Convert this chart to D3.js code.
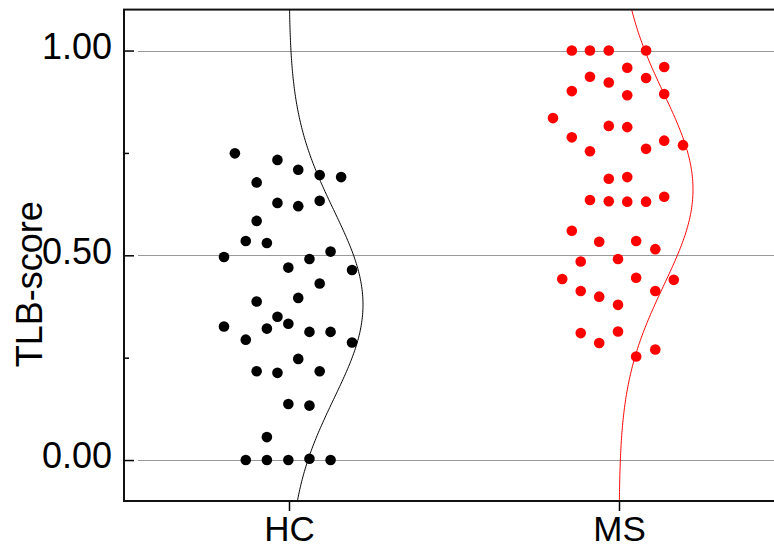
<!DOCTYPE html>
<html>
<head>
<meta charset="utf-8">
<script src="https://cdn.jsdelivr.net/npm/d3@7"></script>
<style>
    body { margin: 0; background: #fff; }
    svg { display: block; font-family: "Liberation Sans", Arial, sans-serif; }
</style>
</head>
<body>
<svg id="chart" width="774" height="549"></svg>
<script>
var categories = ['HC', 'MS'];
var colors = ['#000000', '#ff0000'];

// TLB-score per subject, with the horizontal jitter (in category units) used to spread the dots
var hcScore = [0.749, 0.733, 0.709, 0.696, 0.691, 0.678, 0.628, 0.620, 0.633, 0.584,
    0.535, 0.530, 0.496, 0.509, 0.491, 0.470, 0.464, 0.431, 0.387, 0.396,
    0.350, 0.326, 0.321, 0.333, 0.313, 0.313, 0.294, 0.287, 0.247, 0.217,
    0.213, 0.217, 0.137, 0.133, 0.056, 0, 0, 0, 0.003, 0];
var hcJitter = [-0.164, -0.035, 0.028, 0.093, 0.158, -0.098, -0.035, 0.028, 0.093, -0.098,
    -0.131, -0.067, -0.197, 0.126, 0.062, -0.002, 0.191, 0.093, -0.098, 0.028,
    -0.035, -0.197, -0.067, -0.002, 0.062, 0.126, -0.131, 0.191, 0.028, -0.098,
    -0.035, 0.093, -0.002, 0.062, -0.067, -0.131, -0.067, -0.002, 0.062, 0.126];

var msScore = [1, 1, 1, 1, 0.958, 0.960, 0.936, 0.922, 0.933, 0.901,
    0.891, 0.894, 0.835, 0.816, 0.813, 0.788, 0.780, 0.769, 0.754, 0.760,
    0.687, 0.691, 0.635, 0.632, 0.631, 0.631, 0.643, 0.560, 0.533, 0.535,
    0.515, 0.485, 0.491, 0.442, 0.445, 0.440, 0.413, 0.399, 0.413, 0.379,
    0.310, 0.286, 0.314, 0.253, 0.270];
var msJitter = [-0.143, -0.088, -0.031, 0.082, 0.025, 0.137, -0.088, -0.031, 0.082, -0.143,
    0.025, 0.137, -0.200, -0.031, 0.025, -0.143, 0.137, 0.194, -0.088, 0.082,
    -0.031, 0.025, -0.088, -0.031, 0.025, 0.082, 0.137, -0.143, -0.060, 0.052,
    0.110, -0.116, -0.003, -0.172, 0.052, 0.166, -0.116, -0.060, 0.110, -0.003,
    -0.116, -0.060, -0.003, 0.052, 0.110];

var majorTicks = [0, 0.5, 1];
var minorTicks = [0.25, 0.75];
var yTitle = 'TLB-score';

var groups = [
    { name: categories[0], pos: 1, color: colors[0], scores: hcScore, jitter: hcJitter },
    { name: categories[1], pos: 2, color: colors[1], scores: msScore, jitter: msJitter }
];

var plotLeft = 124, plotRight = 784, plotTop = 9.6, plotBottom = 501;
var curveWidth = 74; // px reached by each fitted curve at its peak

var x = d3.scaleLinear().domain([0.5, 2.5]).range([plotLeft, plotRight]);
var y = d3.scaleLinear().domain([-0.1, 1.1]).range([plotBottom, plotTop]);

var svg = d3.select('#chart');

svg.append('defs').append('clipPath').attr('id', 'plotClip')
    .append('rect')
    .attr('x', plotLeft).attr('y', plotTop)
    .attr('width', plotRight - plotLeft).attr('height', plotBottom - plotTop);

/* Grid lines */
svg.append('g').attr('class', 'grid')
    .selectAll('line')
    .data(majorTicks)
    .join('line')
    .attr('x1', plotLeft + 14).attr('x2', plotRight)
    .attr('y1', function(d) { return Math.round(y(d)) + 0.5; })
    .attr('y2', function(d) { return Math.round(y(d)) + 0.5; })
    .style('stroke', '#999')
    .style('stroke-width', 1);

/* Normal curves fitted to each group */
var plot = svg.append('g').attr('clip-path', 'url(#plotClip)');
var samples = d3.range(-0.1, 1.1001, 0.004);

groups.forEach(function(g) {
    var mu = d3.mean(g.scores);
    var sd = d3.deviation(g.scores);
    var pts = samples.map(function(v) {
        var z = (v - mu) / sd;
        return { v: v, p: Math.exp(-0.5 * z * z) / (sd * Math.sqrt(2 * Math.PI)) };
    });
    var peak = 1 / (sd * Math.sqrt(2 * Math.PI));
    var densityX = d3.scaleLinear().domain([0, peak]).range([0, curveWidth]);
    var line = d3.line()
        .x(function(d) { return x(g.pos) + densityX(d.p); })
        .y(function(d) { return y(d.v); });
    plot.append('path')
        .attr('d', line(pts))
        .style('fill', 'none')
        .style('stroke', g.color)
        .style('stroke-width', 1);
});

/* Dots */
groups.forEach(function(g) {
    plot.append('g')
        .selectAll('circle')
        .data(g.scores)
        .join('circle')
        .attr('cx', function(d, i) { return x(g.pos + g.jitter[i]); })
        .attr('cy', function(d) { return y(d); })
        .attr('r', 5.3)
        .style('fill', g.color);
});

/* Axes */
var yAxis = d3.axisLeft(y)
    .tickValues(majorTicks)
    .tickFormat(d3.format('.2f'))
    .tickSizeInner(-10)
    .tickSizeOuter(0)
    .tickPadding(12);

var yg = svg.append('g')
    .attr('transform', 'translate(' + plotLeft + ',0)')
    .call(yAxis);
yg.select('.domain').remove();
yg.selectAll('line').style('stroke', '#000').style('stroke-width', 1.5);
yg.selectAll('text')
    .attr('dy', '0.22em')
    .style('font-size', '36px')
    .style('fill', '#000');

var yMinor = svg.append('g')
    .attr('transform', 'translate(' + plotLeft + ',0)')
    .call(d3.axisLeft(y).tickValues(minorTicks).tickSizeInner(-5).tickSizeOuter(0).tickFormat(''));
yMinor.select('.domain').remove();
yMinor.selectAll('line').style('stroke', '#000').style('stroke-width', 1.5);

var xAxis = d3.axisBottom(x)
    .tickValues(groups.map(function(g) { return g.pos; }))
    .tickFormat(function(d) { return categories[d - 1]; })
    .tickSizeInner(10)
    .tickSizeOuter(0)
    .tickPadding(5);

var xg = svg.append('g')
    .attr('transform', 'translate(0,' + plotBottom + ')')
    .call(xAxis);
xg.select('.domain').remove();
xg.selectAll('line').style('stroke', '#000').style('stroke-width', 1.5);
xg.selectAll('text')
    .style('font-size', '35px')
    .style('fill', '#000');

// frame
svg.append('rect')
    .attr('x', plotLeft).attr('y', plotTop)
    .attr('width', plotRight - plotLeft).attr('height', plotBottom - plotTop)
    .style('fill', 'none')
    .style('stroke', '#111')
    .style('stroke-width', 2);

svg.append('text')
    .attr('transform', 'translate(42,' + ((plotTop + plotBottom) / 2 + 29) + ') rotate(-90)')
    .attr('text-anchor', 'middle')
    .style('font-size', '36px')
    .style('fill', '#000')
    .text(yTitle);
</script>
</body>
</html>
